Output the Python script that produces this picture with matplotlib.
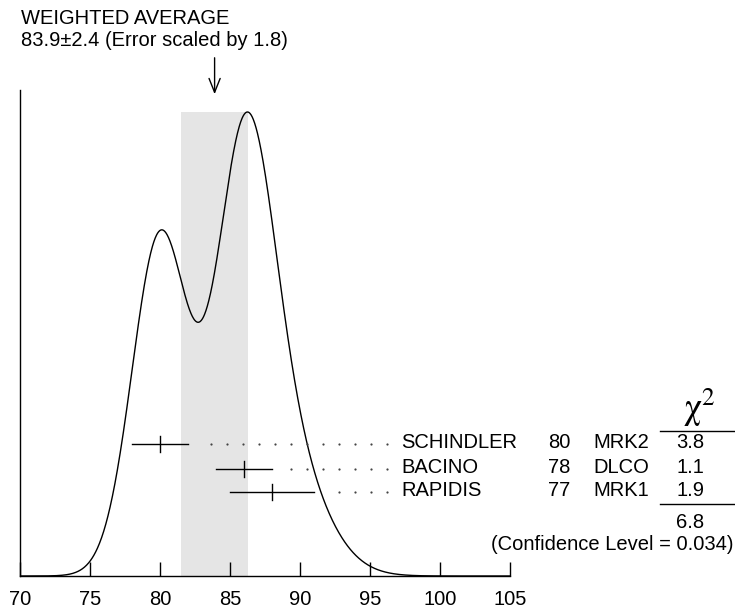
import numpy as np
import matplotlib
matplotlib.use("Agg")
import matplotlib.pyplot as plt

plt.rcParams['font.family'] = ['Liberation Sans', 'DejaVu Sans']
plt.rcParams['mathtext.fontset'] = 'stix'

# measurements
names = ["SCHINDLER", "BACINO", "RAPIDIS"]
years = ["80", "78", "77"]
expts = ["MRK2", "DLCO", "MRK1"]
values = [80.0, 86.0, 88.0]
errors = [2.0, 2.0, 3.0]
chi2 = ["3.8", "1.1", "1.9"]
chi2_total = "6.8"
conf_level = "0.034"

avg = 83.9
avg_err = 2.4
scale = 1.8

xticks = [70, 75, 80, 85, 90, 95, 100, 105]

# ideogram: each measurement a gaussian with area 1/sigma
x = np.linspace(70, 105, 1400)
curve = np.zeros_like(x)
for v, e in zip(values, errors):
    curve += (1.0 / e) * np.exp(-0.5 * ((x - v) / e) ** 2) / (e * np.sqrt(2 * np.pi))
cmax = curve.max()

W, H = 735, 610
fig = plt.figure(figsize=(W / 100, H / 100), dpi=100)
# axes: x 70..105 -> px 20..510, y baseline px 576, top px 90
ax = fig.add_axes([20 / W, 1 - 576 / H, 490 / W, 486 / H])
ax.set_xlim(70, 105)
ax.set_ylim(0, cmax * 486 / 464)

ax.fill_between([avg - avg_err, avg + avg_err], 0, cmax, color='#e5e5e5', lw=0, zorder=0)
ax.plot(x, curve, color='black', lw=1.0, zorder=2)

for s in ['top', 'right']:
    ax.spines[s].set_visible(False)
ax.spines['left'].set_linewidth(1.0)
ax.spines['bottom'].set_linewidth(1.0)
ax.set_yticks([])
ax.set_xticks(xticks)
ax.set_xticklabels([str(t) for t in xticks])
ax.tick_params(axis='x', direction='in', length=10, width=1.0, pad=10, labelsize=14.5)

tr = ax.get_xaxis_transform()
rows = [0.2716, 0.220, 0.1728]
dot_start = 96.2
dot_step = 16 / 14
for v, e, yr in zip(values, errors, rows):
    ax.plot([v - e, v + e], [yr, yr], color='black', lw=1.0, transform=tr, clip_on=False)
    ax.plot([v, v], [yr - 0.017, yr + 0.017], color='black', lw=1.0, transform=tr, clip_on=False)
    dots = []
    d = dot_start
    while d > v + e + dot_step:
        dots.append(d)
        d -= dot_step
    ax.plot(dots, [yr] * len(dots), ls='none', marker='o', ms=1.6, mew=0, color='#444444',
            transform=tr, clip_on=False)

fs = 14.5
for n, yy, ex, c, yr in zip(names, years, expts, chi2, rows):
    ax.text(97.26, yr + 0.003, n, transform=tr, fontsize=fs, ha='left', va='center', clip_on=False)
    ax.text(109.29, yr + 0.003, yy, transform=tr, fontsize=fs, ha='right', va='center', clip_on=False)
    ax.text(110.93, yr + 0.003, ex, transform=tr, fontsize=fs, ha='left', va='center', clip_on=False)
    ax.text(117.86, yr + 0.003, c, transform=tr, fontsize=fs, ha='center', va='center', clip_on=False)

# chi2 header and summary
ax.plot([115.71, 121.07], [0.2984, 0.2984], color='black', lw=1.0, transform=tr, clip_on=False)
ax.plot([115.71, 121.07], [0.1481, 0.1481], color='black', lw=1.0, transform=tr, clip_on=False)
ax.text(118.5, 0.303, r"$\mathrm{\chi}^{2}$", transform=tr, fontsize=26,
        ha='center', va='bottom', clip_on=False)
ax.text(117.86, 0.111, chi2_total, transform=tr, fontsize=fs, ha='center', va='center', clip_on=False)
ax.text(120.93, 0.0638, "(Confidence Level = %s)" % conf_level, transform=tr, fontsize=fs,
        ha='right', va='center', clip_on=False)

# weighted average arrow and label
ax.annotate('', xy=(avg, 0.9856), xytext=(avg, 1.072), xycoords=tr, textcoords=tr,
            arrowprops=dict(arrowstyle='->,head_length=1.0,head_width=0.4', lw=1.0, color='black'))
fig.text(21 / W, 1 - 18 / H, "WEIGHTED AVERAGE", fontsize=fs, ha='left', va='center')
fig.text(21 / W, 1 - 40 / H, "%.1f±%.1f (Error scaled by %.1f)" % (avg, avg_err, scale),
         fontsize=fs, ha='left', va='center')

fig.savefig("out.png", dpi=100)
